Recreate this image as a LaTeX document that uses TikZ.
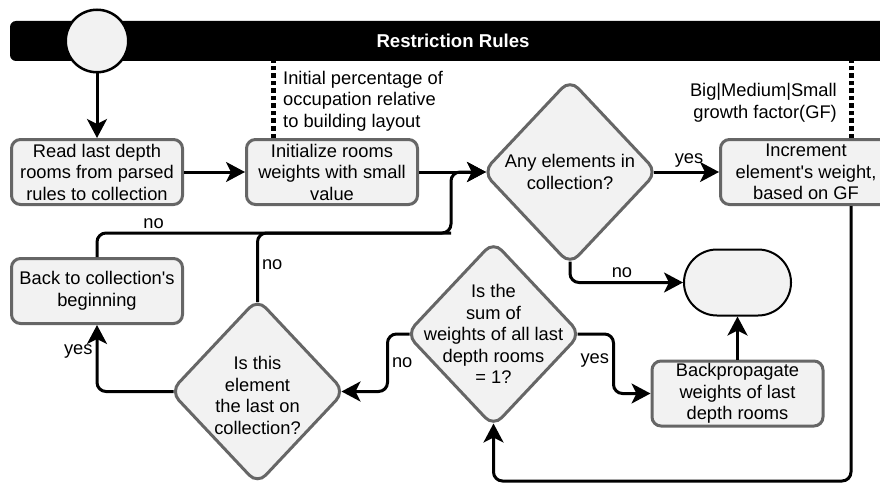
\documentclass[tikz,border=0pt]{standalone}
\usepackage{fontspec}
\setmainfont{Liberation Sans}
\usetikzlibrary{arrows.meta,positioning,shapes.geometric}
\definecolor{boxfill}{HTML}{F2F2F2}
\definecolor{boxline}{HTML}{666666}

\begin{document}
\begin{tikzpicture}[>={Stealth[length=19pt,width=20pt,inset=5pt]},
    font=\fontsize{18.3}{21.5}\selectfont,
    procbox/.style={rectangle,rounded corners=9pt,draw=boxline,fill=boxfill,line width=3pt,
      minimum width=171pt,minimum height=65pt,align=center,inner sep=1pt},
    decision/.style={diamond,rounded corners=12pt,draw=boxline,fill=boxfill,line width=3pt,
      minimum width=175pt,minimum height=186pt,inner sep=0pt},
    qtext/.style={align=center,inner sep=0pt},
    flow/.style={->,line width=3pt,rounded corners=9pt},
    intip/.style={shorten >=-5pt},
    outtip/.style={shorten <=-5pt},
    dotline/.style={line width=5pt,dash pattern=on 4.5pt off 3pt},
    ann/.style={inner sep=0pt},
    lbl/.style={inner sep=3pt}]

            \useasboundingbox (0,0) rectangle (880pt,-484pt);
            \clip (0,0) rectangle (880pt,-484pt);

            \node[fill=black,rounded corners=6pt,minimum width=886pt,minimum height=40pt,text=white,
                  font=\fontsize{18.6}{21}\selectfont\bfseries] (lane) at (453pt,-41pt) {Restriction Rules};

            \node[circle,draw=black,fill=boxfill,line width=2.5pt,minimum size=62.5pt] (start) at (97pt,-41pt) {};

            \node[procbox] (read) [below=64.5pt of start] {Read last depth\\rooms from parsed\\rules to collection};

            \node[procbox] (init) [right=61pt of read] {Initialize rooms\\weights with small\\value};

            \node[decision] (any) [right=62pt of init] {};
            \node[qtext] (anyq) at (any) {Any elements in\\collection?};

            \node[procbox] (inc) [right=60pt of any] {Increment\\element\textquotesingle s weight,\\based on GF};

            \node[procbox] (back) [below=51pt of read] {Back to collection\textquotesingle s\\beginning};

            \node[decision] (elem) [below=91pt of init, xshift=-74.5pt] {};
            \node[qtext] (elemq) at ([yshift=-4pt]elem.center) {Is this\\element\\the last on\\collection?};

            \node[decision] (sum) [right=58pt of elem, yshift=57.5pt] {};
            \node[qtext] (sumq) at (sum) {Is the\\sum of\\weights of all last\\depth rooms\\= 1?};

            \node[procbox] (bprop) [right=68pt of sum, yshift=-59.5pt] {Backpropagate\\weights of last\\depth rooms};

            \node[draw=black,fill=boxfill,line width=2pt,rounded corners=33pt,
                  minimum width=107pt,minimum height=66pt] (term) [above=43pt of bprop] {};

            % side notes
            \node[ann,anchor=west,align=left] (pct) at (283pt,-101pt) {Initial percentage of\\occupation relative\\to building layout};
            \node[ann,anchor=east,align=right] (gf) at (837pt,-103pt) {Big|Medium|Small\\growth factor(GF)};

            \draw[dotline] ([xshift=-58.5pt]init.north) -- ([xshift=-58.5pt]init.north |- lane.south);
            \draw[dotline] ([xshift=45pt]inc.north) -- ([xshift=45pt]inc.north |- lane.south);

            \coordinate (join) at (451pt,-233pt);
            \coordinate (loopend) at ([xshift=45pt]inc.south |- 0,-481pt);

            \draw[flow] (start) -- (read);
            \draw[flow] (read) -- (init);
            \draw[flow,intip] (init) -- (any);
            \draw[flow,outtip] (any) -- node[lbl,above] {yes} (inc);
            \draw[flow,outtip] (any.south) |- node[lbl,pos=0.73,above] {no} (term.west);
            \draw[flow] (bprop) -- (term);
            \draw[flow,intip] ([xshift=45pt]inc.south) -- (loopend) -| (sum.south);
            \draw[flow,outtip] (sum.east) -- ++(31pt,0) |- node[lbl,pos=0.22,left] {yes} (bprop.west);
            \draw[flow,outtip,intip] (sum.west) -- ++(-17pt,0) |- node[lbl,pos=0.25,right] {no} (elem.east);
            \draw[flow,outtip] (elem.west) -| node[lbl,pos=0.8,left] {yes} (back.south);
            \draw[line width=3pt,rounded corners=9pt] (back.north) |- node[lbl,pos=0.58,above] {no} (join);
            \draw[flow,outtip,intip] (elem.north) |- node[lbl,pos=0.25,right] {no} (join) |- (any.west);

        \end{tikzpicture}
\end{document}
